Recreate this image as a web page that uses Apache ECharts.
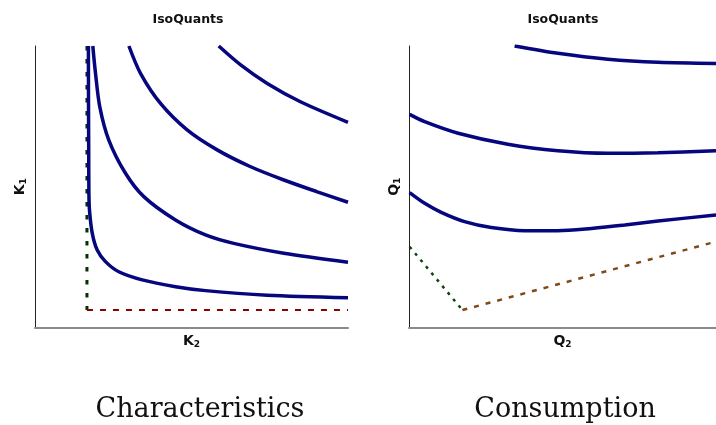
<!DOCTYPE html>
<html><head><meta charset="utf-8">
<script src="https://cdn.jsdelivr.net/npm/echarts@6/dist/echarts.min.js"></script>
<style>html,body{margin:0;padding:0;background:#fff}#c{width:716px;height:425px}</style>
</head><body><div id="c"></div>
<script>
// Left panel: Characteristics (K2 horizontal, K1 vertical), normalized 0-100
const charIso1 = [[17.06,100],[17.09,80.8],[17.16,63.1],[17.22,47.8],[17.41,41.7],[18.27,33.6],[19.87,27.5],[22.52,23.4],[26.77,19.8],[34.25,16.9],[44.89,14.5],[54.47,13.1],[74.2,11.5],[100,10.6]];
const charIso2 = [[18.47,100],[19.33,90.3],[20.70,78.4],[23.58,66.6],[28.91,54.8],[34.76,46.5],[44.89,38.2],[54.47,32.9],[63.5,29.9],[79.5,26.4],[100,23.2]];
const charIso3 = [[30.0,100],[33.7,90.3],[40.1,79.6],[48.6,70.2],[58.2,63.1],[68.9,57.1],[79.5,52.4],[90.2,48.2],[100,44.5]];
const charIso4 = [[58.7,100],[65.7,93.3],[74.2,86.7],[84.8,80.2],[100,72.9]];
const charBoundV = [[16.6,100],[16.6,6.2]];
const charBoundH = [[16.6,6.2],[100,6.2]];
// Right panel: Consumption (Q2 horizontal, Q1 vertical)
const consIsoA = [[34.4,100],[48.5,97.4],[64.8,95.3],[81.1,94.2],[100,93.8]];
const consIsoB = [[0.2,75.7],[5.1,73.1],[16.0,69.0],[32.2,65.1],[48.5,62.8],[64.8,61.9],[81.1,62.1],[100,62.8]];
const consIsoC = [[0.2,47.9],[5.1,44.1],[10.5,40.9],[18.1,37.6],[26.8,35.5],[37.7,34.4],[48.5,34.4],[59.4,35.2],[70.3,36.4],[81.1,37.8],[100,40.0]];
const consBoundG = [[0.2,28.7],[17.4,6.2]];
const consBoundB = [[17.4,6.2],[100,30.5]];

const panelTitles = ['IsoQuants','IsoQuants'];
const captions = ['Characteristics','Consumption'];

const navy = '#06067f';
function iso(data, xi){
  return {type:'line', xAxisIndex:xi, yAxisIndex:xi, data:data, showSymbol:false, smooth:0.3,
    lineStyle:{color:navy, width:3.5}, silent:true};
}
function bound(data, xi, color, width, dash){
  return {type:'line', xAxisIndex:xi, yAxisIndex:xi, data:data, showSymbol:false,
    lineStyle:{color:color, width:width, type:dash}, silent:true};
}
function nameRich(){
  return {rich:{
    a:{fontFamily:'DejaVu Sans',fontWeight:'bold',fontSize:14,color:'#111'},
    s:{fontFamily:'DejaVu Sans',fontWeight:'bold',fontSize:9,color:'#111',padding:[7,0,0,0]}
  }};
}
function xAx(gi, name){
  return {type:'value', gridIndex:gi, min:0, max:100, name:name, nameLocation:'middle', nameGap:6,
    nameTextStyle:nameRich(),
    axisLine:{show:true, lineStyle:{color:'#8a8a8a', width:2}}, axisTick:{show:false}, axisLabel:{show:false}, splitLine:{show:false}};
}
function yAx(gi, name){
  return {type:'value', gridIndex:gi, min:0, max:100, name:name, nameLocation:'middle', nameGap:7, nameRotate:90,
    nameTextStyle:nameRich(),
    axisLine:{show:true, lineStyle:{color:'#222', width:1}}, axisTick:{show:false}, axisLabel:{show:false}, splitLine:{show:false}};
}
const titleStyle = {fontFamily:'DejaVu Sans', fontWeight:'bold', fontSize:12.5, fill:'#111'};
const capStyle = {fontFamily:'DejaVu Serif', fontWeight:'normal', fontSize:27, fill:'#111'};
const chart = echarts.init(document.getElementById('c'), null, {renderer:'canvas'});
chart.setOption({
  backgroundColor:'#fff',
  animation:false,
  graphic:[
    {type:'text', x:188, y:20, style:Object.assign({text:panelTitles[0], textAlign:'center', textVerticalAlign:'middle'}, titleStyle)},
    {type:'text', x:563, y:20, style:Object.assign({text:panelTitles[1], textAlign:'center', textVerticalAlign:'middle'}, titleStyle)},
    {type:'text', x:200, y:410, style:Object.assign({text:captions[0], textAlign:'center', textVerticalAlign:'middle'}, capStyle)},
    {type:'text', x:565, y:410, style:Object.assign({text:captions[1], textAlign:'center', textVerticalAlign:'middle'}, capStyle)}
  ],
  grid:[
    {left:35, top:46, width:313, height:281.5},
    {left:409, top:46, width:307, height:281.5}
  ],
  xAxis:[xAx(0,'{a|K}{s|2}'), xAx(1,'{a|Q}{s|2}')],
  yAxis:[yAx(0,'{a|K}{s|1}'), yAx(1,'{a|Q}{s|1}')],
  series:[
    bound(charBoundV,0,'#003300',3,[4.5,8.5]),
    bound(charBoundH,0,'#8b0000',2,[6,7]),
    iso(charIso1,0), iso(charIso2,0), iso(charIso3,0), iso(charIso4,0),
    bound(consBoundG,1,'#0a4a0a',2.5,[3,5.5]),
    bound(consBoundB,1,'#7f4a1a',2.5,[5,7]),
    iso(consIsoA,1), iso(consIsoB,1), iso(consIsoC,1)
  ]
});
</script></body></html>
